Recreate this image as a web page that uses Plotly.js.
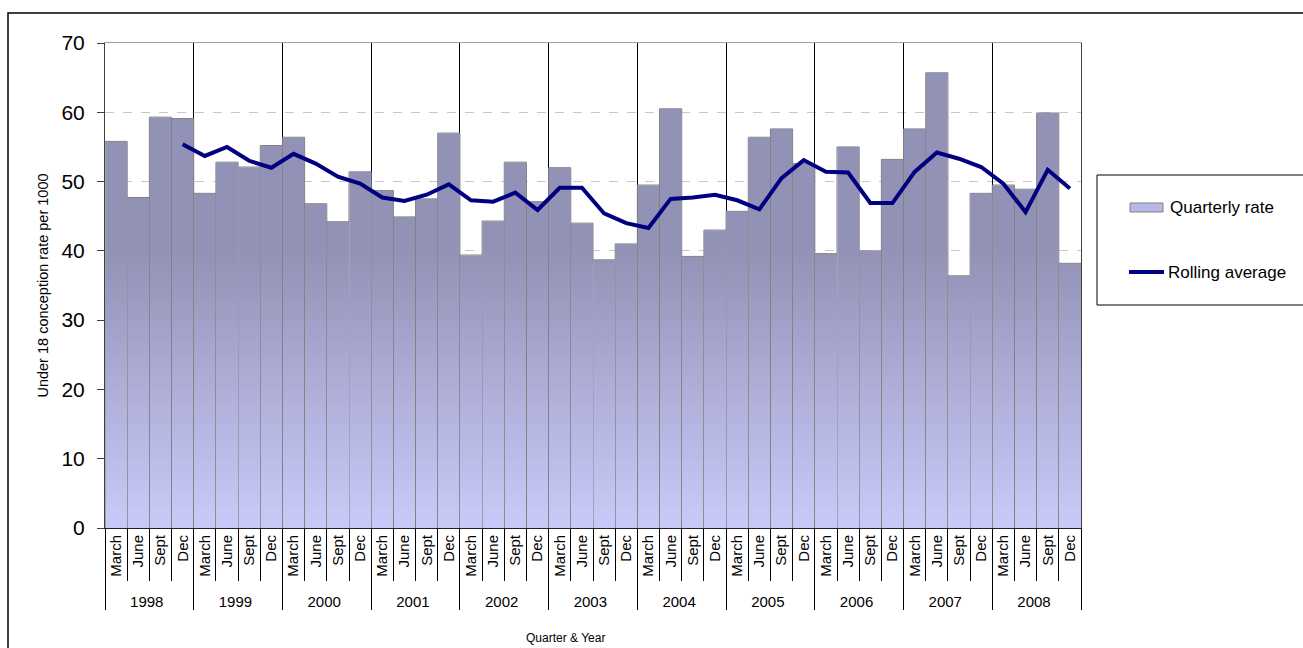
<!DOCTYPE html>
<html><head><meta charset="utf-8">
<script src="https://cdn.plot.ly/plotly-3.0.1.min.js"></script>
<style>html,body{margin:0;padding:0;background:#fff}#chart{width:1303px;height:648px}</style>
</head><body><div id="chart"></div>
<script>
const years = ['1998','1999','2000','2001','2002','2003','2004','2005','2006','2007','2008'];
const quarters = ['March','June','Sept','Dec'];
const quarterlyRate = [
  55.8, 47.7, 59.3, 59.1,
  48.3, 52.8, 52.1, 55.2,
  56.4, 46.8, 44.2, 51.4,
  48.7, 44.9, 47.5, 57.0,
  39.4, 44.3, 52.8, 47.1,
  52.0, 44.0, 38.7, 41.0,
  49.5, 60.5, 39.2, 43.0,
  45.7, 56.4, 57.6, 52.6,
  39.6, 55.0, 40.0, 53.2,
  57.6, 65.7, 36.4, 48.3,
  49.5, 48.9, 59.9, 38.2];
const rollingAverage = [
  null, null, null, 55.4,
  53.7, 55.0, 53.0, 52.0,
  54.0, 52.6, 50.7, 49.7,
  47.7, 47.2, 48.1, 49.6,
  47.3, 47.1, 48.4, 45.9,
  49.1, 49.1, 45.4, 44.0,
  43.3, 47.5, 47.7, 48.1,
  47.3, 46.0, 50.5, 53.1,
  51.4, 51.3, 46.9, 46.9,
  51.4, 54.2, 53.3, 52.1,
  49.7, 45.6, 51.7, 49.0];
const legendLabels = ['Quarterly rate', 'Rolling average'];

const xYear = [], xQuarter = [];
years.forEach(y => quarters.forEach(q => { xYear.push(y); xQuarter.push(q); }));
const X = [xYear, xQuarter];

const FONT = 'Liberation Sans, Arial, sans-serif';
const light = [202, 202, 250], dark = [146, 146, 182];
function mix(f) {
  const c = light.map((l, i) => Math.round(l + (dark[i] - l) * f));
  return 'rgb(' + c.join(',') + ')';
}
const traces = [];
traces.push({
  type: 'bar', x: X, y: quarterlyRate, name: legendLabels[0], width: 1,
  marker: {color: '#c4c4f0', line: {color: '#808080', width: 1}},
  showlegend: false, hoverinfo: 'skip'
});
traces.push({
  type: 'bar', x: X, y: quarterlyRate.map(v => v - 0.07), width: 0.955,
  marker: {color: mix(1), line: {width: 0}}, showlegend: false, hoverinfo: 'skip'
});
const N = 40;
for (let t = N; t >= 1; t--) {
  traces.push({
    type: 'bar', x: X, y: quarterlyRate.map(v => Math.min(v - 0.07, t)), width: 0.955,
    marker: {color: mix((t - 0.5) / N), line: {width: 0}}, showlegend: false, hoverinfo: 'skip'
  });
}
traces.push({
  type: 'scatter', mode: 'lines', x: X, y: rollingAverage, name: legendLabels[1],
  line: {color: '#000080', width: 4}, connectgaps: false, showlegend: false
});
traces.push({type: 'scatter', mode: 'markers', x: [0], y: [0], xaxis: 'x2',
  marker: {opacity: 0}, showlegend: false, hoverinfo: 'skip'});

const px = p => (p - 105) / 976, py = p => (528 - p) / 485;

const layout = {
  width: 1303, height: 648,
  margin: {l: 105, r: 222, t: 43, b: 120},
  paper_bgcolor: '#fff', plot_bgcolor: '#fff',
  font: {family: FONT, color: '#000'},
  barmode: 'overlay', bargap: 0,
  showlegend: false,
  xaxis: {
    type: 'multicategory', tickangle: -90, ticks: 'outside', tickson: 'boundaries',
    ticklen: 52, tickcolor: '#000', tickwidth: 1,
    showdividers: true, dividercolor: '#000', dividerwidth: 1,
    tickfont: {size: 15, family: FONT},
    showline: true, linecolor: '#202020', linewidth: 1, showgrid: false
  },
  xaxis2: {
    overlaying: 'x', side: 'top', range: [-0.5, 43.5], tick0: -0.5, dtick: 4,
    showgrid: true, gridcolor: '#000', gridwidth: 1, showticklabels: false, ticks: '',
    zeroline: false, showline: true, linecolor: '#a0a0a0', linewidth: 1
  },
  yaxis: {
    range: [0, 70], dtick: 10, ticks: 'outside', ticklen: 7, tickcolor: '#404040',
    showline: true, linecolor: '#404040', linewidth: 1, mirror: true,
    showgrid: true, gridcolor: '#c8c8c8', griddash: 'dash', gridwidth: 1, zeroline: false,
    tickfont: {size: 21, family: FONT}, ticklabelstandoff: 8,
    title: {text: 'Under 18 conception rate per 1000', font: {size: 14.5, family: FONT}, standoff: 9}
  },
  annotations: [
    {xref: 'paper', yref: 'paper', x: px(565), y: py(638), text: 'Quarter & Year', showarrow: false,
     font: {size: 12, family: FONT}, xanchor: 'center', yanchor: 'middle'},
    {xref: 'paper', yref: 'paper', x: px(1168), y: py(207), text: legendLabels[0], showarrow: false,
     font: {size: 17, family: FONT}, xanchor: 'left', yanchor: 'middle'},
    {xref: 'paper', yref: 'paper', x: px(1166), y: py(272), text: legendLabels[1], showarrow: false,
     font: {size: 17, family: FONT}, xanchor: 'left', yanchor: 'middle'}
  ],
  shapes: [
    {type: 'rect', xref: 'paper', yref: 'paper', x0: px(8), x1: 1.5, y0: -0.5, y1: py(13),
     line: {color: '#000', width: 1.5}, fillcolor: 'rgba(0,0,0,0)', layer: 'below'},
    {type: 'rect', xref: 'paper', yref: 'paper', x0: px(1097), x1: 1.3, y0: py(305), y1: py(175),
     line: {color: '#000', width: 1}, fillcolor: 'rgba(0,0,0,0)'},
    {type: 'rect', xref: 'paper', yref: 'paper', x0: px(1130), x1: px(1163), y0: py(212), y1: py(203),
     line: {color: '#808080', width: 1}, fillcolor: '#b8b8e8'},
    {type: 'line', xref: 'paper', yref: 'paper', x0: px(1129), x1: px(1164), y0: py(272), y1: py(272),
     line: {color: '#000080', width: 4}}
  ]
};
Plotly.newPlot('chart', traces, layout, {displayModeBar: false, staticPlot: true});
</script></body></html>
